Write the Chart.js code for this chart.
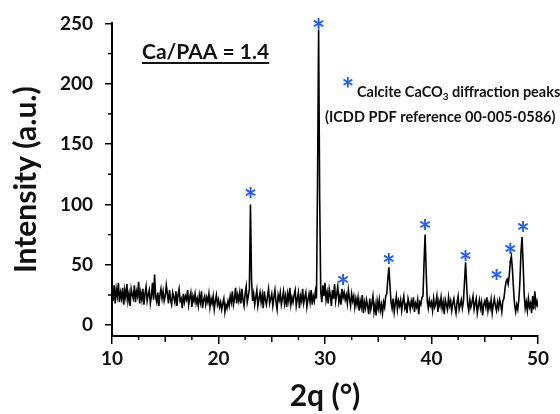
<!DOCTYPE html>
<html>
<head>
<meta charset="utf-8">
<script src="https://cdn.jsdelivr.net/npm/chart.js@4"></script>
<style>
  html, body { margin: 0; padding: 0; background: #fff; }
  #wrap { width: 560px; height: 414px; }
</style>
</head>
<body>
<div id="wrap"><canvas id="xrdChart" width="560" height="414"></canvas></div>
<script>
// 2-theta grid: 10.0 to 50.0 deg, step 0.1
const startAngle = 10;
const stepAngle = 0.1;

// intensity, one row per degree
const intensity = [
  28,20,33,18,30,24,35,19,27,22,
  31,17,29,23,34,20,26,16,30,25,
  22,33,19,28,24,36,18,27,21,30,
  17,26,32,20,25,29,18,24,35,21,
  42,23,19,27,16,25,30,22,28,20,
  24,33,26,18,29,21,17,27,23,19,
  28,16,25,30,20,22,14,26,19,24,
  21,29,17,23,27,15,24,20,26,18,
  22,16,25,19,28,14,21,24,17,23,
  19,26,15,22,18,24,13,20,25,17,
  21,15,19,13,18,22,11,17,14,20,
  16,24,19,28,17,22,31,18,25,20,
  27,18,30,21,16,26,32,19,24,30,
  100,38,20,26,17,23,29,16,22,27,
  19,25,14,28,21,17,24,30,18,22,
  26,16,23,29,19,13,25,21,27,17,
  22,28,18,24,15,26,20,31,17,23,
  19,25,29,16,22,27,14,24,20,30,
  18,23,27,15,21,26,19,29,17,24,
  20,28,22,120,245,105,28,19,33,24,
  35,21,27,18,30,25,16,29,22,34,
  20,26,32,19,24,17,30,23,27,21,
  25,18,29,22,16,26,20,24,15,22,
  17,23,12,20,15,25,10,19,14,21,
  16,9,22,13,18,24,11,17,8,20,
  14,21,12,17,10,19,15,24,26,38,
  48,33,19,14,22,11,18,24,13,20,
  16,21,12,19,24,14,17,10,22,18,
  13,20,16,23,11,18,15,21,9,19,
  17,23,24,52,75,44,20,14,21,16,
  19,12,22,15,18,24,11,20,16,23,
  14,19,9,21,17,13,23,16,20,12,
  18,22,15,10,19,24,13,17,21,14,
  20,36,52,33,17,12,21,15,19,24,
  13,18,22,10,16,21,14,19,8,17,
  20,15,23,12,18,14,21,10,17,22,
  16,12,19,14,21,17,11,20,22,30,
  36,38,34,41,53,57,46,30,17,11,
  17,13,21,36,60,73,52,26,14,19,
  12,22,15,18,10,24,13,28,16,20,
  15
];

// calcite peak markers (blue asterisks)
const markAngles = [23.0, 29.4, 31.7, 36.0, 39.4, 43.2, 46.1, 47.4, 48.6];
const markHeights = [110, 250, 38, 56, 84, 58, 42, 64, 82];

const xTicks = [10, 20, 30, 40, 50];
const yTicks = [0, 50, 100, 150, 200, 250];

const blue = '#1f5cff';
const fontName = 'Lato';

const points = intensity.map((v, i) => ({ x: startAngle + i * stepAngle, y: v }));

function drawStar(ctx, cx, cy, size) {
  ctx.save();
  ctx.font = 'bold ' + size + 'px ' + fontName;
  ctx.fillStyle = blue;
  ctx.textAlign = 'center';
  ctx.textBaseline = 'alphabetic';
  const m = ctx.measureText('*');
  const asc = m.actualBoundingBoxAscent, desc = m.actualBoundingBoxDescent;
  ctx.fillText('*', cx, cy + (asc - desc) / 2);
  ctx.restore();
}

const extrasPlugin = {
  id: 'extras',
  afterDraw(chart) {
    const ctx = chart.ctx;
    const xs = chart.scales.x, ys = chart.scales.y;
    const area = chart.chartArea;

    // minor ticks
    ctx.save();
    ctx.strokeStyle = '#000';
    ctx.lineWidth = 1.5;
    for (let a = 12.5; a < 50; a += 2.5) {
      if (a % 10 === 0) continue;
      const len = (a % 5 === 0) ? 6 : 4;
      const px = xs.getPixelForValue(a);
      ctx.beginPath();
      ctx.moveTo(px, area.bottom);
      ctx.lineTo(px, area.bottom + len);
      ctx.stroke();
    }
    for (let v = 25; v < 250; v += 50) {
      const py = ys.getPixelForValue(v);
      ctx.beginPath();
      ctx.moveTo(area.left, py);
      ctx.lineTo(area.left - 4, py);
      ctx.stroke();
    }
    ctx.restore();

    // peak asterisks
    markAngles.forEach((a, i) => {
      drawStar(ctx, xs.getPixelForValue(a), ys.getPixelForValue(markHeights[i]), 32);
    });

    // sample label
    ctx.save();
    ctx.fillStyle = '#111';
    ctx.font = 'bold 21px ' + fontName;
    ctx.textBaseline = 'alphabetic';
    const label = 'Ca/PAA = 1.4';
    ctx.fillText(label, 142, 59);
    const w = ctx.measureText(label).width;
    ctx.strokeStyle = '#111';
    ctx.lineWidth = 1.8;
    ctx.beginPath();
    ctx.moveTo(142, 63);
    ctx.lineTo(142 + w, 63);
    ctx.stroke();

    // legend text
    drawStar(ctx, 348, 82, 30);
    ctx.fillStyle = '#111';
    ctx.font = 'bold 14.5px ' + fontName;
    let x = 357;
    ctx.fillText('Calcite CaCO', x, 97);
    x += ctx.measureText('Calcite CaCO').width;
    ctx.font = 'bold 10px ' + fontName;
    ctx.fillText('3', x, 100);
    x += ctx.measureText('3').width;
    ctx.font = 'bold 14.5px ' + fontName;
    ctx.fillText(' diffraction peaks', x, 97);
    ctx.fillText('(ICDD PDF reference 00-005-0586)', 325, 122);
    ctx.restore();
  }
};

new Chart(document.getElementById('xrdChart'), {
  type: 'line',
  data: {
    datasets: [{
      data: points,
      borderColor: '#000',
      borderWidth: 1.6,
      pointRadius: 0,
      tension: 0
    }]
  },
  options: {
    responsive: false,
    animation: false,
    parsing: false,
    layout: { padding: { top: 23, right: 22, left: 0, bottom: 0 } },
    plugins: { legend: { display: false }, tooltip: { enabled: false } },
    scales: {
      x: {
        type: 'linear',
        min: 10,
        max: 50,
        afterBuildTicks: s => { s.ticks = xTicks.map(v => ({ value: v })); },
        afterFit: s => { s.height = 78; },
        border: { display: true, color: '#000', width: 2 },
        grid: { drawOnChartArea: false, color: '#000', lineWidth: 1.5, tickLength: 8 },
        ticks: { color: '#111', padding: 3, maxRotation: 0, font: { family: fontName, size: 19, weight: 'bold' } },
        title: {
          display: true,
          text: '2q (°)',
          color: '#111',
          padding: { top: 0, bottom: 0 },
          font: { family: fontName, size: 30, weight: 'bold' }
        }
      },
      y: {
        min: -9,
        max: 250,
        afterBuildTicks: s => { s.ticks = yTicks.map(v => ({ value: v })); },
        afterFit: s => { s.width = 112; },
        border: { display: true, color: '#000', width: 2 },
        grid: { drawOnChartArea: false, color: '#000', lineWidth: 1.5, tickLength: 7 },
        ticks: { color: '#111', padding: 12, font: { family: fontName, size: 19, weight: 'bold' } },
        title: {
          display: true,
          text: 'Intensity (a.u.)',
          color: '#111',
          padding: { top: 8, bottom: 0 },
          font: { family: fontName, size: 30, weight: 'bold' }
        }
      }
    }
  },
  plugins: [extrasPlugin]
});
</script>
</body>
</html>
